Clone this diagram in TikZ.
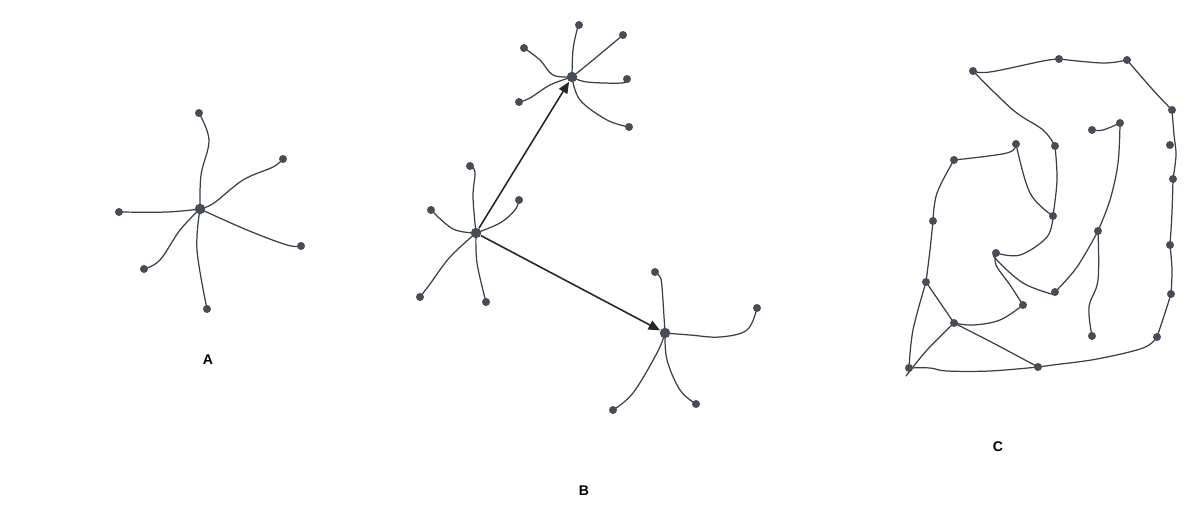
\documentclass[tikz,border=0pt]{standalone}
\usepackage{fontspec}
\setmainfont{Liberation Sans}
\usetikzlibrary{arrows.meta,backgrounds}
\definecolor{dotc}{HTML}{474C57}
\definecolor{linec}{HTML}{3A3E48}
\tikzset{
  leaf/.style={circle,fill=dotc,inner sep=0pt,minimum size=0.16cm},
  hub/.style={circle,fill=dotc,inner sep=0pt,minimum size=0.21cm},
  edge/.style={draw=linec,line width=0.7pt,line cap=round,line join=round},
  arr/.style={draw=black!85,line width=0.9pt,-{Triangle[length=6.5pt,width=5.5pt]}},
  lab/.style={font=\bfseries\fontsize{8}{9}\selectfont}
}
\begin{document}
\begin{tikzpicture}[x=0.02cm,y=-0.02cm]
\useasboundingbox (0,0) rectangle (1200,527);
% ---------- A ----------
\node[hub] (ah) at (200,209) {};
\node[leaf] (a1) at (199,113) {};
\node[leaf] (a2) at (283,159) {};
\node[leaf] (a3) at (119,212) {};
\node[leaf] (a4) at (301,246) {};
\node[leaf] (a5) at (144,269) {};
\node[leaf] (a6) at (207,309) {};
\node[lab] (la) at (208,360) {A};
\begin{pgfonlayer}{background}
\draw[edge] plot[smooth,tension=0.6] coordinates {(ah.center) (201,175) (209,140) (199,113)};
\draw[edge] plot[smooth,tension=0.6] coordinates {(ah.center) (214,203) (243,180) (273,167) (283,159)};
\draw[edge] plot[smooth,tension=0.6] coordinates {(ah.center) (167,212) (119,212)};
\draw[edge] plot[smooth,tension=0.6] coordinates {(ah.center) (247,230) (287,245) (301,246)};
\draw[edge] plot[smooth,tension=0.6] coordinates {(ah.center) (180,230) (160,260) (144,269)};
\draw[edge] plot[smooth,tension=0.6] coordinates {(ah.center) (197,250) (207,309)};
\end{pgfonlayer}
% ---------- B ----------
\node[hub] (b1) at (572,77) {};
\node[leaf] (b11) at (579,25) {};
\node[leaf] (b12) at (623,35) {};
\node[leaf] (b13) at (627,79) {};
\node[leaf] (b14) at (629,127) {};
\node[leaf] (b15) at (524,48) {};
\node[leaf] (b16) at (519,102) {};
\node[hub] (b2) at (476,233) {};
\node[leaf] (b21) at (470,166) {};
\node[leaf] (b22) at (519,200) {};
\node[leaf] (b23) at (431,210) {};
\node[leaf] (b24) at (420,297) {};
\node[leaf] (b25) at (486,302) {};
\node[hub] (b3) at (665,333) {};
\node[leaf] (b31) at (655,272) {};
\node[leaf] (b32) at (757,308) {};
\node[leaf] (b33) at (613,410) {};
\node[leaf] (b34) at (696,404) {};
\node[lab] (lb) at (584,491) {B};
\begin{pgfonlayer}{background}
\draw[edge] plot[smooth,tension=0.6] coordinates {(b1.center) (573,50) (577,30) (579,25)};
\draw[edge] plot[smooth,tension=0.6] coordinates {(b1.center) (593,60) (623,35)};
\draw[edge] plot[smooth,tension=0.6] coordinates {(b1.center) (587,82) (622,83) (627,79)};
\draw[edge] plot[smooth,tension=0.6] coordinates {(b1.center) (580,100) (607,120) (629,127)};
\draw[edge] plot[smooth,tension=0.6] coordinates {(b1.center) (553,75) (540,60) (524,48)};
\draw[edge] plot[smooth,tension=0.6] coordinates {(b1.center) (550,85) (530,98) (519,102)};
\draw[edge] plot[smooth,tension=0.6] coordinates {(b2.center) (473,197) (475,172) (470,166)};
\draw[edge] plot[smooth,tension=0.6] coordinates {(b2.center) (500,223) (515,210) (519,200)};
\draw[edge] plot[smooth,tension=0.6] coordinates {(b2.center) (453,229) (431,210)};
\draw[edge] plot[smooth,tension=0.6] coordinates {(b2.center) (450,257) (430,284) (420,297)};
\draw[edge] plot[smooth,tension=0.6] coordinates {(b2.center) (477,263) (486,302)};
\draw[edge] plot[smooth,tension=0.6] coordinates {(b3.center) (662,287) (660,277) (655,272)};
\draw[edge] plot[smooth,tension=0.6] coordinates {(b3.center) (690,335) (720,337) (747,330) (757,308)};
\draw[edge] plot[smooth,tension=0.6] coordinates {(b3.center) (657,353) (633,393) (613,410)};
\draw[edge] plot[smooth,tension=0.6] coordinates {(b3.center) (667,360) (680,390) (696,404)};
\end{pgfonlayer}
\draw[arr] (b2) -- (b1);
\draw[arr] (b2) -- (b3);
% ---------- C ----------
\node[leaf] (c1) at (973,71) {};
\node[leaf] (c2) at (1059,59) {};
\node[leaf] (c3) at (1127,60) {};
\node[leaf] (c4) at (1172,110) {};
\node[leaf] (c5) at (1170,145) {};
\node[leaf] (c6) at (1173,179) {};
\node[leaf] (c7) at (1170,245) {};
\node[leaf] (c8) at (1120,123) {};
\node[leaf] (c9) at (1092,130) {};
\node[leaf] (c10) at (1055,146) {};
\node[leaf] (c11) at (1016,144) {};
\node[leaf] (c12) at (954,160) {};
\node[leaf] (c13) at (933,221) {};
\node[leaf] (c14) at (1053,216) {};
\node[leaf] (c15) at (1098,231) {};
\node[leaf] (c16) at (996,253) {};
\node[leaf] (c17) at (926,282) {};
\node[leaf] (c18) at (1055,292) {};
\node[leaf] (c19) at (1171,294) {};
\node[leaf] (c20) at (1023,305) {};
\node[leaf] (c21) at (954,323) {};
\node[leaf] (c22) at (1092,336) {};
\node[leaf] (c23) at (1157,337) {};
\node[leaf] (c24) at (909,368) {};
\node[leaf] (c25) at (1038,367) {};
\coordinate (cend) at (906,376);
\node[lab] (lc) at (998,447) {C};
\begin{pgfonlayer}{background}
\draw[edge] plot[smooth,tension=0.6] coordinates {(c1.center) (990,72) (1043,61) (c2.center)};
\draw[edge] plot[smooth,tension=0.6] coordinates {(c2.center) (1103,63) (c3.center)};
\draw[edge] plot[smooth,tension=0.6] coordinates {(c3.center) (1153,90) (c4.center)};
\draw[edge] plot[smooth,tension=0.6] coordinates {(c4.center) (1174,135) (1176,155) (c6.center)};
\draw[edge] plot[smooth,tension=0.6] coordinates {(c6.center) (1172,212) (c7.center)};
\draw[edge] plot[smooth,tension=0.6] coordinates {(c7.center) (1172,270) (c19.center)};
\draw[edge] plot[smooth,tension=0.6] coordinates {(c19.center) (1164,316) (c23.center)};
\draw[edge] plot[smooth,tension=0.6] coordinates {(c23.center) (1143,348) (1097,359) (1053,365) (c25.center)};
\draw[edge] plot[smooth,tension=0.6] coordinates {(c25.center) (990,371) (947,371) (930,368) (c24.center)};
\draw[edge] plot[smooth,tension=0.6] coordinates {(c1.center) (1013,110) (1043,130) (c10.center)};
\draw[edge] plot[smooth,tension=0.6] coordinates {(c10.center) (1057,180) (c14.center)};
\draw[edge] plot[smooth,tension=0.6] coordinates {(c11.center) (1030,193) (c14.center)};
\draw[edge] plot[smooth,tension=0.6] coordinates {(c11.center) (1007,153) (c12.center)};
\draw[edge] plot[smooth,tension=0.6] coordinates {(c12.center) (937,193) (c13.center)};
\draw[edge] plot[smooth,tension=0.6] coordinates {(c13.center) (930,250) (c17.center)};
\draw[edge] plot[smooth,tension=0.6] coordinates {(c14.center) (1047,237) (1020,255) (c16.center)};
\draw[edge] plot[smooth,tension=0.6] coordinates {(c9.center) (1103,130) (c8.center)};
\draw[edge] plot[smooth,tension=0.6] coordinates {(c8.center) (1118,163) (1110,200) (c15.center)};
\draw[edge] plot[smooth,tension=0.6] coordinates {(c15.center) (1077,267) (c18.center)};
\draw[edge] plot[smooth,tension=0.6] coordinates {(c15.center) (1098,280) (1089,307) (c22.center)};
\draw[edge] plot[smooth,tension=0.6] coordinates {(c16.center) (995,258) (1023,283) (1055,295)};
\draw[edge] plot[smooth,tension=0.6] coordinates {(c16.center) (996,265) (1010,285) (c20.center)};
\draw[edge] plot[smooth,tension=0.6] coordinates {(c20.center) (1000,320) (973,325) (c21.center)};
\draw[edge] (c17.center) -- (c21.center);
\draw[edge] plot[smooth,tension=0.6] coordinates {(c17.center) (913,330) (c24.center)};
\draw[edge] plot[smooth,tension=0.6] coordinates {(c21.center) (995,344) (c25.center)};
\draw[edge] plot[smooth,tension=0.6] coordinates {(c21.center) (927,350) (cend)};
\end{pgfonlayer}
\end{tikzpicture}
\end{document}
